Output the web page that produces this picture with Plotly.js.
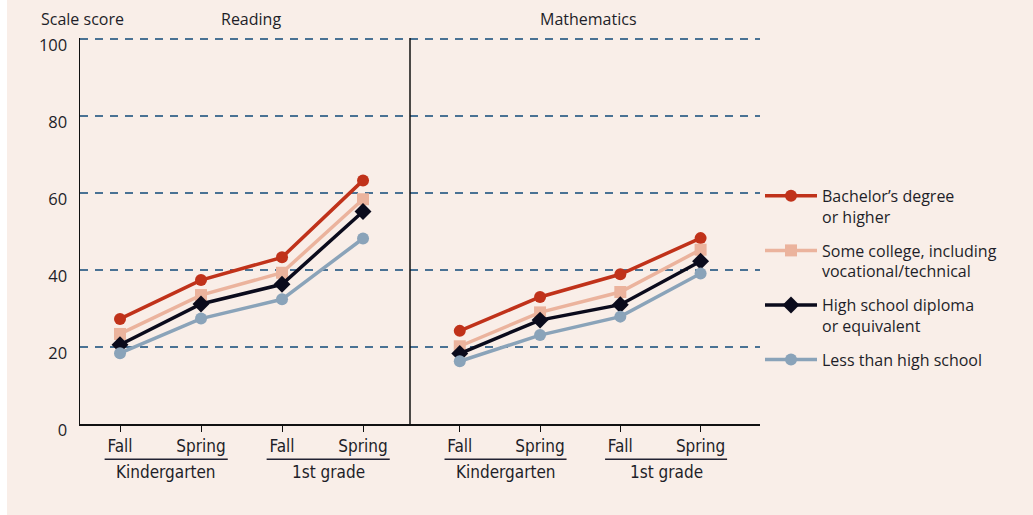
<!DOCTYPE html>
<html>
<head>
<meta charset="utf-8">
<script src="https://cdn.plot.ly/plotly-3.0.1.min.js"></script>
<style>
  html, body { margin: 0; padding: 0; background: #ffffff; }
  #chart { position: absolute; left: 7px; top: 0; width: 1026px; height: 515px; }
</style>
</head>
<body>
<div id="chart"></div>
<script>
// ---- data ----
const timepoints = ["Fall", "Spring", "Fall", "Spring"];
const groups = ["Kindergarten", "1st grade"];
const groupStart = [0, 2];
const groupEnd = [1, 3];
const panels = ["Reading", "Mathematics"];
const seriesNames = [
  "Bachelor’s degree<br>or higher",
  "Some college, including<br>vocational/technical",
  "High school diploma<br>or equivalent",
  "Less than high school"
];
const readingBachelor = [27.3, 37.4, 43.3, 63.3];
const readingSomeCollege = [23.4, 33.5, 39.3, 58.4];
const readingHighSchool = [20.6, 31.2, 36.3, 55.2];
const readingLessHS = [18.4, 27.4, 32.4, 48.2];
const mathBachelor = [24.2, 33.0, 38.9, 48.3];
const mathSomeCollege = [20.2, 29.0, 34.3, 45.3];
const mathHighSchool = [18.3, 27.0, 31.0, 42.3];
const mathLessHS = [16.3, 23.1, 27.9, 39.1];
const yTicks = [0, 20, 40, 60, 80, 100];

// ---- styles ----
const colors = ["#c0321a", "#ebb39d", "#0b0b1c", "#8aa3b9"];
const symbols = ["circle", "square", "diamond", "circle"];
const bg = "#f9eee8";
const textColor = "#1e1e28";
const mainFont = "Open Sans, Lato, sans-serif";
const xIdx = timepoints.map((_, i) => i);

const readingSeries = [readingBachelor, readingSomeCollege, readingHighSchool, readingLessHS];
const mathSeries = [mathBachelor, mathSomeCollege, mathHighSchool, mathLessHS];

const traces = [];
[readingSeries, mathSeries].forEach((set, p) => {
  set.forEach((vals, i) => {
    traces.push({
      type: "scatter",
      mode: "lines+markers",
      x: xIdx,
      y: vals,
      xaxis: p === 0 ? "x" : "x2",
      yaxis: "y",
      name: seriesNames[i],
      legendgroup: "g" + i,
      showlegend: p === 0,
      line: { color: colors[i], width: 3.5 },
      marker: { color: colors[i], symbol: symbols[i], size: symbols[i] === "diamond" ? 13 : 12 },
      hoverinfo: "skip"
    });
  });
});

const split = 330 / 680;
const tickFont = { family: "Liberation Sans Narrow, DejaVu Sans Condensed, Roboto, sans-serif", size: 17, color: textColor };

const xCommon = {
  tickvals: xIdx,
  ticktext: timepoints,
  showgrid: false,
  zeroline: false,
  showline: true,
  linecolor: "#111111",
  linewidth: 1.5,
  ticks: "outside",
  ticklen: 6,
  tickcolor: "#111111",
  tickfont: tickFont,
  fixedrange: true
};

const shapes = [];
const annotations = [];
["x", "x2"].forEach((ax, p) => {
  groups.forEach((g, gi) => {
    shapes.push({
      type: "line", xref: ax, yref: "paper",
      x0: groupStart[gi] - 0.19, x1: groupEnd[gi] + 0.33,
      y0: -0.091, y1: -0.091,
      line: { color: "#222233", width: 1.5 }
    });
    annotations.push({
      xref: ax, yref: "paper",
      x: (groupStart[gi] + groupEnd[gi]) / 2 + 0.07, y: -0.125,
      text: g, showarrow: false, xanchor: "center", yanchor: "middle",
      font: tickFont
    });
  });
});
// panel divider
shapes.push({
  type: "line", xref: "paper", yref: "paper",
  x0: split, x1: split, y0: 0, y1: 1,
  line: { color: "#111111", width: 1.5 }
});
annotations.push({
  xref: "paper", yref: "paper", x: -0.06, y: 1.05, xanchor: "left", yanchor: "middle",
  text: "Scale score", showarrow: false,
  font: { family: mainFont, size: 16, color: textColor }
});
annotations.push({
  xref: "paper", yref: "paper", x: 0.2515, y: 1.05, xanchor: "center", yanchor: "middle",
  text: panels[0], showarrow: false,
  font: { family: mainFont, size: 16, color: textColor }
});
annotations.push({
  xref: "paper", yref: "paper", x: 0.7485, y: 1.05, xanchor: "center", yanchor: "middle",
  text: panels[1], showarrow: false,
  font: { family: mainFont, size: 16, color: textColor }
});

const layout = {
  width: 1026,
  height: 515,
  margin: { l: 73, r: 273, t: 38, b: 91 },
  paper_bgcolor: bg,
  plot_bgcolor: bg,
  font: { family: mainFont, color: textColor },
  showlegend: true,
  xaxis: Object.assign({}, xCommon, { domain: [0, split], range: [-0.494, 3.58] }),
  xaxis2: Object.assign({}, xCommon, { domain: [split, 1], range: [-0.62, 3.74], anchor: "y" }),
  yaxis: {
    range: [0, 100.3],
    tickvals: yTicks,
    showgrid: true,
    gridcolor: "#4a7294",
    gridwidth: 1.5,
    griddash: "8px,7px",
    zeroline: false,
    showline: true,
    linecolor: "#111111",
    linewidth: 1.5,
    ticks: "",
    ticklabelstandoff: 8,
    ticklabelshift: 6,
    tickfont: { family: mainFont, size: 16.5, color: textColor },
    fixedrange: true
  },
  legend: {
    x: 1.0, xanchor: "left",
    y: 0.635, yanchor: "top",
    bgcolor: "rgba(0,0,0,0)",
    font: { family: mainFont, size: 16, color: textColor },
    valign: "top",
    tracegroupgap: 10,
    itemwidth: 52
  },
  shapes: shapes,
  annotations: annotations
};

Plotly.newPlot("chart", traces, layout, { displayModeBar: false, staticPlot: true });
</script>
</body>
</html>
